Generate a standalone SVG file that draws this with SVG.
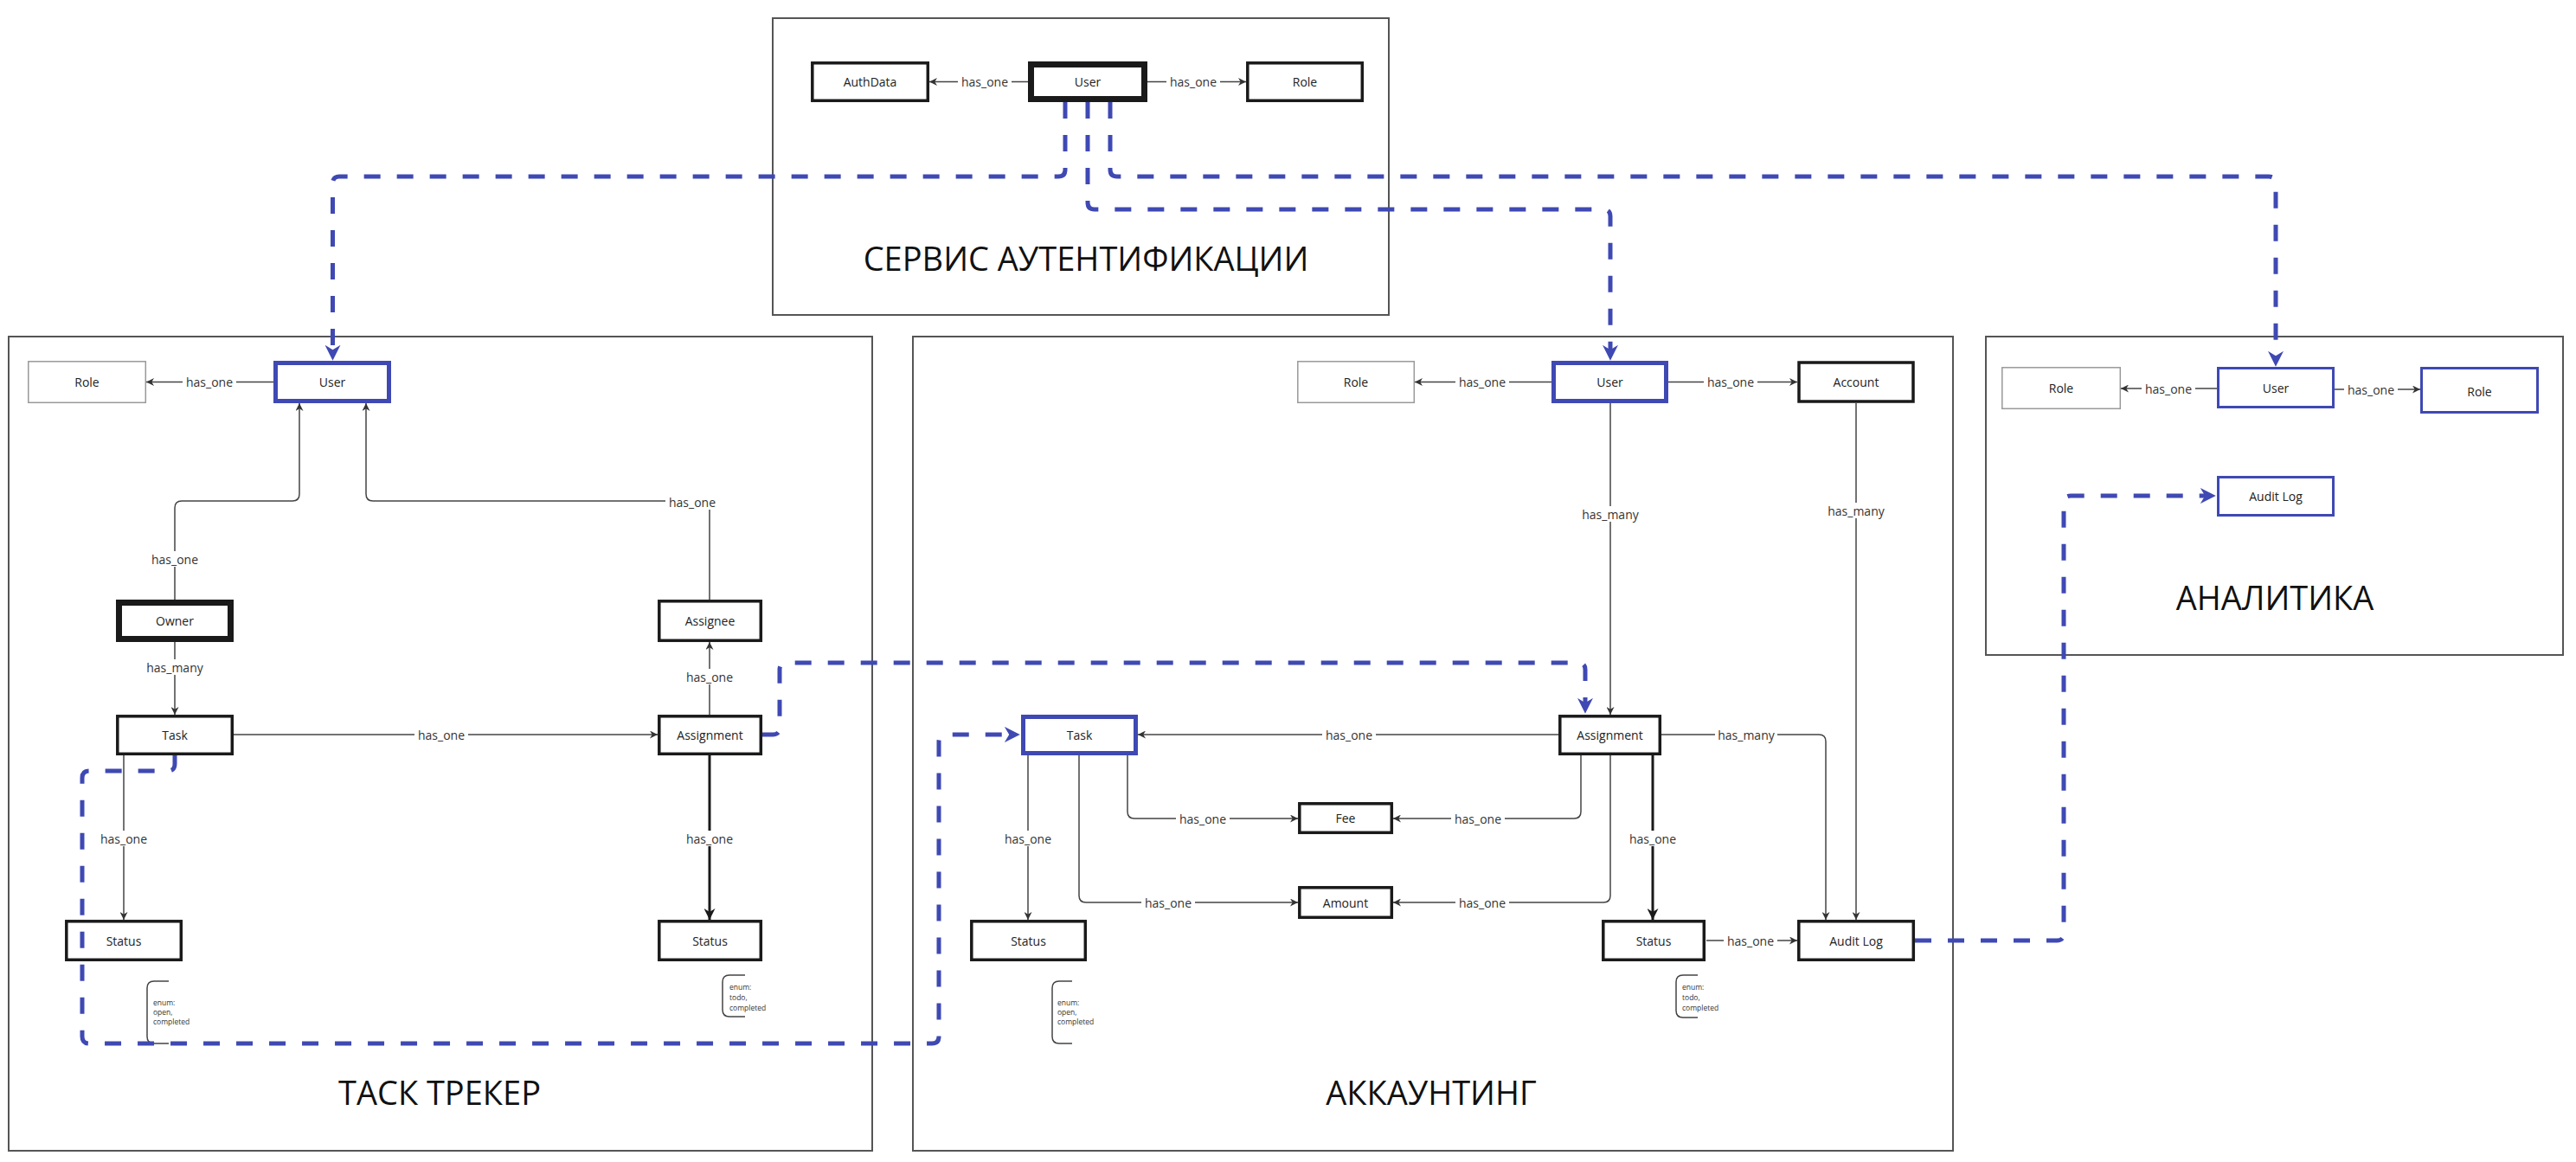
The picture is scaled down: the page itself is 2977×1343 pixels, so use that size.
<svg xmlns="http://www.w3.org/2000/svg" width="2977" height="1343" viewBox="0 0 2977 1343">
<style>
text{font-family:"Open Sans","Liberation Sans",sans-serif}
.box{fill:none;stroke:#555;stroke-width:2}
.c{fill:none;stroke:#444;stroke-width:1.5}
.ck{fill:none;stroke:#1a1a1a;stroke-width:3}
.d{fill:none;stroke:#3f49b3;stroke-width:5;stroke-dasharray:19 19}
.n rect{fill:#fff}
.m{stroke:#1a1a1a;stroke-width:3.5}
.t{stroke:#1a1a1a;stroke-width:7}
.g{stroke:#999;stroke-width:1.5}
.b{stroke:#3f49b3;stroke-width:5}
.b3{stroke:#3f49b3;stroke-width:3}
.nt{font-size:14px;fill:#222;text-anchor:middle;dominant-baseline:central}
.lb{font-size:14px;fill:#333;text-anchor:middle;dominant-baseline:central}
.bg{fill:#fff}
.ttl{font-size:38px;fill:#111;text-anchor:middle}
.en{font-size:8.5px;fill:#333}
</style>
<defs>
<marker id="a" viewBox="0 0 10 10" refX="10" refY="5" markerWidth="9" markerHeight="9" markerUnits="userSpaceOnUse" orient="auto"><path d="M0,0 L10,5 L0,10 L3,5 z" fill="#333"/></marker>
<marker id="ak" viewBox="0 0 10 10" refX="10" refY="5" markerWidth="13" markerHeight="13" markerUnits="userSpaceOnUse" orient="auto"><path d="M0,0 L10,5 L0,10 L3,5 z" fill="#1a1a1a"/></marker>
<marker id="ab" viewBox="0 0 10 10" refX="4" refY="5" markerWidth="18" markerHeight="18" markerUnits="userSpaceOnUse" orient="auto"><path d="M0,0 L10,5 L0,10 L3,5 z" fill="#3f49b3"/></marker>
</defs>
<rect width="2977" height="1343" fill="#fff"/>

<g id="containers">
<rect class="box" x="893" y="21" width="712" height="343"/>
<rect class="box" x="10" y="389" width="998" height="941"/>
<rect class="box" x="1055" y="389" width="1202" height="941"/>
<rect class="box" x="2295" y="389" width="667" height="368"/>
<text class="ttl" x="1255" y="313">СЕРВИС АУТЕНТИФИКАЦИИ</text>
<text class="ttl" x="508" y="1277">ТАСК ТРЕКЕР</text>
<text class="ttl" x="1654" y="1277">АККАУНТИНГ</text>
<text class="ttl" x="2629" y="705">АНАЛИТИКА</text>
</g>

<g id="connectors">
<path class="c" d="M1188,94.5 H1074" marker-end="url(#a)"/>
<rect class="bg" x="1107" y="85" width="62" height="18"/><text class="lb" x="1138" y="94">has_one</text>
<path class="c" d="M1326,94.5 H1440" marker-end="url(#a)"/>
<rect class="bg" x="1348" y="85" width="62" height="18"/><text class="lb" x="1379" y="94">has_one</text>
<path class="c" d="M316,441.5 H169" marker-end="url(#a)"/>
<rect class="bg" x="211" y="432" width="62" height="18"/><text class="lb" x="242" y="441">has_one</text>
<path class="c" d="M202,693 V587 Q202,579 210,579 H338 Q346,579 346,571 V466" marker-end="url(#a)"/>
<rect class="bg" x="171" y="637" width="62" height="18"/><text class="lb" x="202" y="646">has_one</text>
<path class="c" d="M820,693 V587 Q820,579 812,579 H431 Q423,579 423,571 V466" marker-end="url(#a)"/>
<rect class="bg" x="769" y="571" width="62" height="18"/><text class="lb" x="800" y="580">has_one</text>
<path class="c" d="M202,742 V826" marker-end="url(#a)"/>
<rect class="bg" x="166" y="762" width="72" height="18"/><text class="lb" x="202" y="771">has_many</text>
<path class="c" d="M270,849 H760" marker-end="url(#a)"/>
<rect class="bg" x="479" y="840" width="62" height="18"/><text class="lb" x="510" y="849">has_one</text>
<path class="c" d="M820,826 V742" marker-end="url(#a)"/>
<rect class="bg" x="789" y="773" width="62" height="18"/><text class="lb" x="820" y="782">has_one</text>
<path class="c" d="M143,873 V1063" marker-end="url(#a)"/>
<rect class="bg" x="112" y="960" width="62" height="18"/><text class="lb" x="143" y="969">has_one</text>
<path class="ck" d="M820,873 V1063" marker-end="url(#ak)"/>
<rect class="bg" x="789" y="960" width="62" height="18"/><text class="lb" x="820" y="969">has_one</text>
<path class="c" d="M195,1134 H178 Q170,1134 170,1142 V1198 Q170,1206 178,1206 H195"/>
<path class="c" d="M861,1127 H843 Q835,1127 835,1135 V1167 Q835,1175 843,1175 H861"/>
<path class="c" d="M1793,441.5 H1635" marker-end="url(#a)"/>
<rect class="bg" x="1682" y="432" width="62" height="18"/><text class="lb" x="1713" y="441">has_one</text>
<path class="c" d="M1928,441.5 H2077" marker-end="url(#a)"/>
<rect class="bg" x="1969" y="432" width="62" height="18"/><text class="lb" x="2000" y="441">has_one</text>
<path class="c" d="M1861,466 V826" marker-end="url(#a)"/>
<rect class="bg" x="1825" y="585" width="72" height="18"/><text class="lb" x="1861" y="594">has_many</text>
<path class="c" d="M2145,466 V1063" marker-end="url(#a)"/>
<rect class="bg" x="2109" y="581" width="72" height="18"/><text class="lb" x="2145" y="590">has_many</text>
<path class="c" d="M1801,849 H1315" marker-end="url(#a)"/>
<rect class="bg" x="1528" y="840" width="62" height="18"/><text class="lb" x="1559" y="849">has_one</text>
<path class="c" d="M1920,849 H2102 Q2110,849 2110,857 V1063" marker-end="url(#a)"/>
<rect class="bg" x="1982" y="840" width="72" height="18"/><text class="lb" x="2018" y="849">has_many</text>
<path class="c" d="M1303,873 V938 Q1303,946 1311,946 H1500" marker-end="url(#a)"/>
<rect class="bg" x="1359" y="937" width="62" height="18"/><text class="lb" x="1390" y="946">has_one</text>
<path class="c" d="M1827,873 V938 Q1827,946 1819,946 H1610" marker-end="url(#a)"/>
<rect class="bg" x="1677" y="937" width="62" height="18"/><text class="lb" x="1708" y="946">has_one</text>
<path class="c" d="M1247,873 V1035 Q1247,1043 1255,1043 H1500" marker-end="url(#a)"/>
<rect class="bg" x="1319" y="1034" width="62" height="18"/><text class="lb" x="1350" y="1043">has_one</text>
<path class="c" d="M1861,873 V1035 Q1861,1043 1853,1043 H1610" marker-end="url(#a)"/>
<rect class="bg" x="1682" y="1034" width="62" height="18"/><text class="lb" x="1713" y="1043">has_one</text>
<path class="c" d="M1188,873 V1063" marker-end="url(#a)"/>
<rect class="bg" x="1157" y="960" width="62" height="18"/><text class="lb" x="1188" y="969">has_one</text>
<path class="ck" d="M1910,873 V1063" marker-end="url(#ak)"/>
<rect class="bg" x="1879" y="960" width="62" height="18"/><text class="lb" x="1910" y="969">has_one</text>
<path class="c" d="M1972,1087 H2077" marker-end="url(#a)"/>
<rect class="bg" x="1992" y="1078" width="62" height="18"/><text class="lb" x="2023" y="1087">has_one</text>
<path class="c" d="M1239,1134 H1224 Q1216,1134 1216,1142 V1198 Q1216,1206 1224,1206 H1239"/>
<path class="c" d="M1962,1127 H1945 Q1937,1127 1937,1135 V1168 Q1937,1176 1945,1176 H1962"/>
<path class="c" d="M2562,449 H2451" marker-end="url(#a)"/>
<rect class="bg" x="2475" y="440" width="62" height="18"/><text class="lb" x="2506" y="449">has_one</text>
<path class="c" d="M2698,450 H2797" marker-end="url(#a)"/>
<rect class="bg" x="2709" y="441" width="62" height="18"/><text class="lb" x="2740" y="450">has_one</text>
</g>

<g id="auth-service">
<g id="auth-authdata" class="n"><rect class="m" x="938.8" y="72.8" width="133.5" height="43.5"/><text class="nt" x="1005.5" y="94.5">AuthData</text></g>
<g id="auth-user" class="n"><rect class="t" x="1191.5" y="74.5" width="131" height="40"/><text class="nt" x="1257" y="94.5">User</text></g>
<g id="auth-role" class="n"><rect class="m" x="1441.8" y="72.8" width="132.5" height="43.5"/><text class="nt" x="1508" y="94.5">Role</text></g>
</g>

<g id="task-tracker">
<g id="tt-role" class="n"><rect class="g" x="32.8" y="417.8" width="135.5" height="47.5"/><text class="nt" x="100.5" y="441.5">Role</text></g>
<g id="tt-user" class="n"><rect class="b" x="318.5" y="419.5" width="131" height="44"/><text class="nt" x="384" y="441.5">User</text></g>
<g id="tt-owner" class="n"><rect class="t" x="137.5" y="696.5" width="129" height="42"/><text class="nt" x="202" y="717.5">Owner</text></g>
<g id="tt-assignee" class="n"><rect class="m" x="761.8" y="694.8" width="117.5" height="45.5"/><text class="nt" x="820.5" y="717.5">Assignee</text></g>
<g id="tt-task" class="n"><rect class="m" x="135.8" y="827.8" width="132.5" height="43.5"/><text class="nt" x="202" y="849.5">Task</text></g>
<g id="tt-assignment" class="n"><rect class="m" x="761.8" y="827.8" width="117.5" height="43.5"/><text class="nt" x="820.5" y="849.5">Assignment</text></g>
<g id="tt-status-task" class="n"><rect class="m" x="76.8" y="1064.8" width="132.5" height="44.5"/><text class="nt" x="143" y="1087">Status</text></g>
<g id="tt-status-assignment" class="n"><rect class="m" x="761.8" y="1064.8" width="117.5" height="44.5"/><text class="nt" x="820.5" y="1087">Status</text></g>
<g id="tt-enum-task"><text class="en"><tspan x="177" y="1162">enum:</tspan><tspan x="177" y="1173">open,</tspan><tspan x="177" y="1184">completed</tspan></text></g>
<g id="tt-enum-assignment"><text class="en"><tspan x="843" y="1144">enum:</tspan><tspan x="843" y="1156">todo,</tspan><tspan x="843" y="1168">completed</tspan></text></g>
</g>

<g id="accounting">
<g id="acc-role" class="n"><rect class="g" x="1499.8" y="417.8" width="134.5" height="47.5"/><text class="nt" x="1567" y="441.5">Role</text></g>
<g id="acc-user" class="n"><rect class="b" x="1795.5" y="419.5" width="130" height="44"/><text class="nt" x="1860.5" y="441.5">User</text></g>
<g id="acc-account" class="n"><rect class="m" x="2079" y="419" width="132" height="45"/><text class="nt" x="2145" y="441.5">Account</text></g>
<g id="acc-task" class="n"><rect class="b" x="1182.5" y="828.5" width="130" height="42"/><text class="nt" x="1247.5" y="849.5">Task</text></g>
<g id="acc-assignment" class="n"><rect class="m" x="1802.8" y="827.8" width="115.5" height="43.5"/><text class="nt" x="1860.5" y="849.5">Assignment</text></g>
<g id="acc-fee" class="n"><rect class="m" x="1501.8" y="928.8" width="106.5" height="33.5"/><text class="nt" x="1555" y="945.5">Fee</text></g>
<g id="acc-amount" class="n"><rect class="m" x="1501.8" y="1025.8" width="106.5" height="34.5"/><text class="nt" x="1555" y="1043">Amount</text></g>
<g id="acc-status-task" class="n"><rect class="m" x="1122.8" y="1064.8" width="131.5" height="44.5"/><text class="nt" x="1188.5" y="1087">Status</text></g>
<g id="acc-status-assignment" class="n"><rect class="m" x="1852.8" y="1064.8" width="116.5" height="44.5"/><text class="nt" x="1911" y="1087">Status</text></g>
<g id="acc-auditlog" class="n"><rect class="m" x="2078.8" y="1064.8" width="132.5" height="44.5"/><text class="nt" x="2145" y="1087">Audit Log</text></g>
<g id="acc-enum-task"><text class="en"><tspan x="1222" y="1162">enum:</tspan><tspan x="1222" y="1173">open,</tspan><tspan x="1222" y="1184">completed</tspan></text></g>
<g id="acc-enum-assignment"><text class="en"><tspan x="1944" y="1144">enum:</tspan><tspan x="1944" y="1156">todo,</tspan><tspan x="1944" y="1168">completed</tspan></text></g>
</g>

<g id="analytics">
<g id="an-role" class="n"><rect class="g" x="2313.8" y="424.8" width="136.5" height="47.5"/><text class="nt" x="2382" y="448.5">Role</text></g>
<g id="an-user" class="n"><rect class="b3" x="2563.5" y="425.5" width="133" height="45"/><text class="nt" x="2630" y="448">User</text></g>
<g id="an-role-2" class="n"><rect class="b3" x="2798.5" y="425.5" width="134" height="51"/><text class="nt" x="2865.5" y="452">Role</text></g>
<g id="an-auditlog" class="n"><rect class="b3" x="2563.5" y="551.5" width="133" height="44"/><text class="nt" x="2630" y="573.5">Audit Log</text></g>
</g>

<g id="service-links">
<path class="d" d="M1231,118 V196 Q1231,204 1223,204 H392 Q384.5,204 384.5,212 V406" marker-end="url(#ab)"/>
<path class="d" d="M1257,118 V234 Q1257,242 1265,242 H1853 Q1861,242 1861,250 V406" marker-end="url(#ab)"/>
<path class="d" d="M1283,118 V196 Q1283,204 1291,204 H2622 Q2630,204 2630,212 V413" marker-end="url(#ab)"/>
<path class="d" d="M202,873 V883 Q202,891 194,891 H103 Q95,891 95,899 V1198 Q95,1206 103,1206 H1077 Q1085,1206 1085,1198 V857 Q1085,849 1093,849 H1168" marker-end="url(#ab)"/>
<path class="d" d="M881,849 H893 Q901,849 901,841 V774 Q901,766 909,766 H1824 Q1832,766 1832,774 V814" marker-end="url(#ab)"/>
<path class="d" d="M2213,1087 H2377 Q2385,1087 2385,1079 V581 Q2385,573 2393,573 H2550" marker-end="url(#ab)"/>
</g>
</svg>
